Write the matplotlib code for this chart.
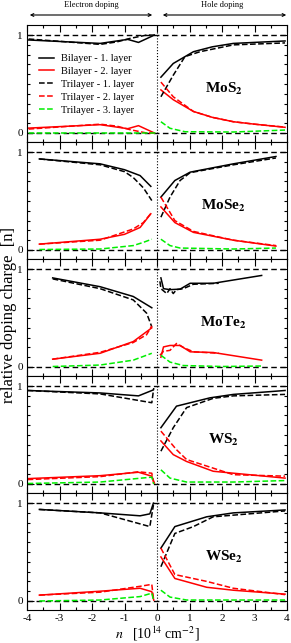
import numpy as np
import matplotlib
matplotlib.use('Agg')
import matplotlib.pyplot as plt
from matplotlib.patches import FancyArrowPatch
from matplotlib.ticker import MultipleLocator, FixedLocator

nan = np.nan

plt.rcParams['font.family'] = ['Liberation Serif', 'DejaVu Serif']
plt.rcParams['mathtext.fontset'] = 'stix'
plt.rcParams['axes.unicode_minus'] = False

# each series: (x, y); nan separates electron side (n<0) from hole side (n>0)
MOS2 = {
    'bl1': ([-3.95, -1.75, -0.9, -0.57, -0.08, nan, 0.12, 0.5, 1.12, 1.7, 2.35, 3.94],
            [0.95, 0.915, 0.956, 0.925, 1.0, nan, 0.57, 0.71, 0.83, 0.88, 0.915, 0.94]),
    'bl2': ([-3.95, -1.75, -0.9, -0.57, -0.08, nan, 0.12, 0.5, 1.12, 1.7, 2.35, 3.0, 3.94],
            [0.05, 0.085, 0.044, 0.075, 0.0, nan, 0.44, 0.34, 0.22, 0.16, 0.115, 0.09, 0.058]),
    'tr1': ([-3.95, -1.75, -1.24, -0.83, -0.32, -0.05, nan, 0.12, 0.5, 0.86, 1.32, 2.35, 3.94],
            [0.96, 0.905, 0.93, 0.966, 1.0, 1.0, nan, 0.37, 0.59, 0.78, 0.83, 0.9, 0.92]),
    'tr2': ([-3.95, -1.75, -1.24, -0.83, -0.32, -0.05, nan, 0.12, 0.5, 1.12, 1.7, 2.35, 3.0, 3.94],
            [0.04, 0.09, 0.07, 0.034, 0.0, 0.0, nan, 0.52, 0.37, 0.22, 0.16, 0.115, 0.09, 0.06]),
    'tr3': ([-3.95, -0.05, nan, 0.12, 0.4, 0.86, 2.35, 3.94],
            [0.0, 0.0, nan, 0.115, 0.048, 0.013, 0.01, 0.03]),
}

MOSE2 = {
    'bl1': ([-3.62, -1.75, -1.0, -0.52, -0.19, nan, 0.12, 0.55, 1.02, 2.35, 3.66],
            [0.93, 0.88, 0.82, 0.76, 0.65, nan, 0.54, 0.71, 0.795, 0.88, 0.955]),
    'bl2': ([-3.62, -1.75, -1.0, -0.52, -0.19, nan, 0.12, 0.55, 1.12, 2.35, 3.66],
            [0.06, 0.11, 0.16, 0.23, 0.37, nan, 0.44, 0.28, 0.18, 0.1, 0.04]),
    'tr1': ([-3.62, -1.75, -1.0, -0.73, -0.42, -0.16, nan, 0.12, 0.4, 0.71, 1.02, 2.35, 3.66],
            [0.93, 0.87, 0.8, 0.74, 0.635, 0.505, nan, 0.335, 0.54, 0.71, 0.79, 0.87, 0.94]),
    'tr2': ([-3.62, -1.75, -0.73, -0.42, -0.16, nan, 0.12, 0.55, 1.12, 2.35, 3.66],
            [0.06, 0.1, 0.215, 0.28, 0.385, nan, 0.54, 0.3, 0.19, 0.1, 0.045]),
    'tr3': ([-3.62, -1.75, -0.73, -0.42, -0.16, nan, 0.12, 0.4, 0.71, 2.35, 3.66],
            [0.005, 0.01, 0.045, 0.078, 0.11, nan, 0.11, 0.045, 0.02, 0.01, 0.02]),
}

MOTE2 = {
    'bl1': ([-3.21, -1.75, -0.73, -0.16, nan, 0.12, 0.2, 0.4, 0.71, 1.02, 1.73, 3.22],
            [0.91, 0.82, 0.72, 0.605, nan, 0.91, 0.8, 0.79, 0.795, 0.855, 0.855, 0.935]),
    'bl2': ([-3.21, -1.75, -0.73, -0.16, nan, 0.12, 0.2, 0.4, 0.71, 1.02, 1.73, 3.22],
            [0.08, 0.14, 0.26, 0.4, nan, 0.1, 0.205, 0.22, 0.22, 0.155, 0.148, 0.07]),
    'tr1': ([-3.21, -1.75, -0.73, -0.32, -0.16, nan, 0.09, 0.12, 0.3, 0.4, 0.5, 0.6, 0.81, 1.12, 1.9],
            [0.9, 0.8, 0.685, 0.55, 0.41, nan, 0.875, 0.8, 0.75, 0.8, 0.75, 0.79, 0.8, 0.845, 0.855]),
    'tr2': ([-3.21, -1.75, -0.73, -0.32, -0.16, nan, 0.09, 0.2, 0.4, 0.6, 0.81, 1.12, 1.9],
            [0.08, 0.15, 0.25, 0.33, 0.42, nan, 0.12, 0.16, 0.17, 0.24, 0.2, 0.155, 0.14]),
    'tr3': ([-3.21, -1.75, -0.73, -0.16, nan, 0.12, 0.4, 0.81, 2.0, 3.22],
            [0.005, 0.02, 0.07, 0.14, nan, 0.12, 0.05, 0.015, 0.005, 0.01]),
}

WS2 = {
    'bl1': ([-3.98, -1.75, -0.57, -0.12, nan, 0.12, 0.6, 1.63, 2.35, 3.94],
            [0.955, 0.93, 0.9, 0.96, nan, 0.575, 0.795, 0.88, 0.915, 0.955]),
    'bl2': ([-3.98, -1.75, -0.57, -0.16, -0.08, nan, 0.12, 0.5, 0.91, 1.73, 3.94],
            [0.055, 0.085, 0.12, 0.08, 0.01, nan, 0.44, 0.3, 0.23, 0.13, 0.06]),
    'tr1': ([-3.98, -1.75, -0.16, -0.1, nan, 0.12, 0.5, 0.91, 1.73, 2.35, 3.94],
            [0.955, 0.92, 0.83, 0.98, nan, 0.335, 0.575, 0.78, 0.875, 0.9, 0.915]),
    'tr2': ([-3.98, -1.75, -0.57, -0.16, -0.1, nan, 0.12, 0.6, 0.91, 2.35, 3.94],
            [0.045, 0.075, 0.125, 0.11, 0.0, nan, 0.54, 0.35, 0.25, 0.095, 0.08]),
    'tr3': ([-3.98, -1.75, -0.16, -0.1, nan, 0.12, 0.4, 0.91, 2.35, 3.94],
            [0.005, 0.02, 0.07, 0.0, nan, 0.145, 0.06, 0.02, 0.02, 0.035]),
}

WSE2 = {
    'bl1': ([-3.62, -1.75, -0.52, -0.22, -0.11, nan, 0.12, 0.55, 1.53, 2.35, 3.94],
            [0.935, 0.9, 0.87, 0.89, 1.0, nan, 0.54, 0.76, 0.86, 0.9, 0.93]),
    'bl2': ([-3.62, -1.75, -0.52, -0.16, -0.1, nan, 0.12, 0.55, 1.53, 2.35, 3.94],
            [0.06, 0.1, 0.13, 0.095, 0.01, nan, 0.45, 0.23, 0.14, 0.11, 0.07]),
    'tr1': ([-3.62, -1.75, -0.22, -0.11, nan, 0.12, 0.55, 1.12, 1.73, 3.94],
            [0.935, 0.9, 0.76, 0.98, nan, 0.35, 0.69, 0.76, 0.86, 0.92]),
    'tr2': ([-3.62, -1.75, -0.52, -0.16, -0.1, nan, 0.12, 0.55, 1.53, 2.35, 3.94],
            [0.06, 0.09, 0.15, 0.17, 0.0, nan, 0.54, 0.27, 0.2, 0.13, 0.065]),
    'tr3': ([-3.62, -1.75, -0.52, -0.16, -0.1, nan, 0.12, 0.4, 0.91, 3.94],
            [0.0, 0.01, 0.045, 0.08, 0.0, nan, 0.11, 0.04, 0.01, 0.01]),
}

materials = [MOS2, MOSE2, MOTE2, WS2, WSE2]
names = [r'MoS$_\mathbf{2}$', r'MoSe$_\mathbf{2}$', r'MoTe$_\mathbf{2}$',
         r'WS$_\mathbf{2}$', r'WSe$_\mathbf{2}$']
series = ['bl1', 'bl2', 'tr1', 'tr2', 'tr3']
labels = ['Bilayer - 1. layer', 'Bilayer - 2. layer', 'Trilayer - 1. layer',
          'Trilayer - 2. layer', 'Trilayer - 3. layer']
styles = {'bl1': ('black', '-'), 'bl2': ('red', '-'), 'tr1': ('black', '--'),
          'tr2': ('red', '--'), 'tr3': ('#00ee00', '--')}

fig = plt.figure(figsize=(2.91, 6.43), dpi=100)
left, right = 27 / 291, 287 / 291
top, bottom = 1 - 25 / 643, 1 - 610 / 643
h = (top - bottom) / 5

axes = []
for i, (data, name) in enumerate(zip(materials, names)):
    ax = fig.add_axes([left, top - (i + 1) * h, right - left, h])
    axes.append(ax)
    ax.axhline(0, color='black', ls='--', lw=1.0, dashes=(4, 2.5))
    ax.axhline(1, color='black', ls='--', lw=1.0, dashes=(4, 2.5))
    ax.axvline(0, color='black', ls=':', lw=0.8)
    for key, lab in zip(series, labels):
        x, y = data[key]
        c, ls = styles[key]
        ax.plot(x, y, color=c, ls=ls, lw=1.1, label=lab)
    ax.set_xlim(-4, 4)
    ax.set_ylim(-0.092, 1.103)
    ax.xaxis.set_major_locator(MultipleLocator(1))
    ax.xaxis.set_minor_locator(MultipleLocator(0.5))
    ax.yaxis.set_major_locator(FixedLocator([0, 1]))
    ax.yaxis.set_minor_locator(FixedLocator(np.arange(0.1, 1.0, 0.1)))
    ax.tick_params(which='both', direction='in', top=True, right=True, labelsize=8, width=0.8)
    ax.tick_params(which='major', length=5, pad=3)
    ax.tick_params(which='minor', length=2.5)
    for s in ax.spines.values():
        s.set_linewidth(0.8)
    if i < 4:
        ax.tick_params(labelbottom=False)
    ax.text(2.05, 0.45, name, fontsize=11, fontweight='bold', ha='center', va='center')

axes[0].legend(loc='upper left', bbox_to_anchor=(0.04, 0.77), frameon=False, fontsize=7.5,
               labelspacing=0.34, handlelength=1.4, handletextpad=0.7, borderaxespad=0,
               borderpad=0.2)
axes[-1].set_xlabel(r'$n$   [10$^{14}$ cm$^{-2}$]', fontsize=10, labelpad=1)

fig.text(0.032, 1 - 315 / 643, 'relative doping charge  [n]', rotation=90,
         ha='center', va='center', fontsize=12)

# doping arrows on top
ya = 1 - 15 / 643
fig.add_artist(FancyArrowPatch((27 / 291, ya), (155 / 291, ya), transform=fig.transFigure,
                               arrowstyle='<->', mutation_scale=5, lw=0.8, color='black'))
fig.add_artist(FancyArrowPatch((160 / 291, ya), (289 / 291, ya), transform=fig.transFigure,
                               arrowstyle='<->', mutation_scale=5, lw=0.8, color='black'))
fig.text(91 / 291, 1 - 5 / 643, 'Electron doping', fontsize=6, ha='center', va='center')
fig.text(222 / 291, 1 - 5 / 643, 'Hole doping', fontsize=6, ha='center', va='center')

fig.savefig('out.png', dpi=100)
